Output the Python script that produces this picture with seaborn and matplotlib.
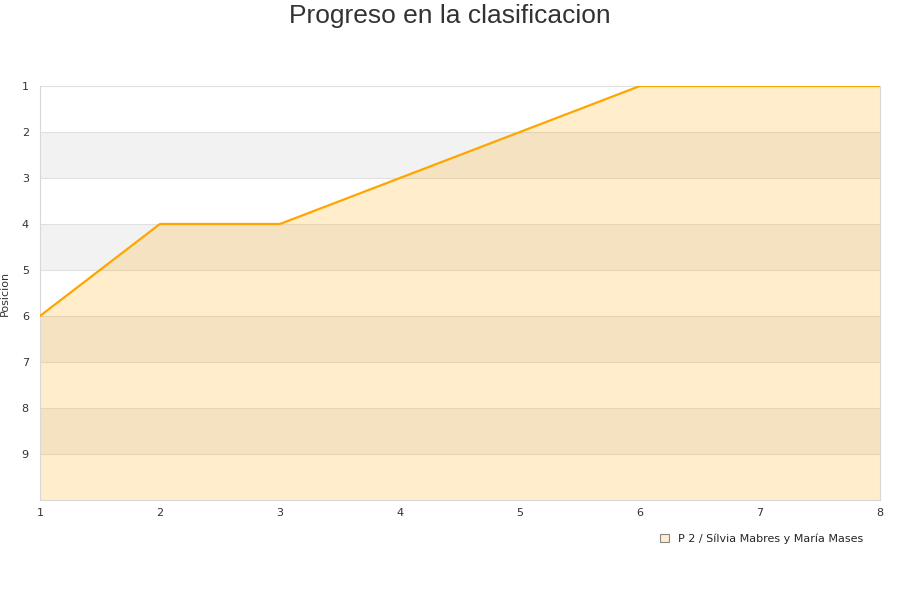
import seaborn as sns
import matplotlib
matplotlib.use('Agg')
import matplotlib.pyplot as plt
import pandas as pd

jornadas = [1, 2, 3, 4, 5, 6, 7, 8]
posicion = [6, 4, 4, 3, 2, 1, 1, 1]
pareja = 'P 2 / Sílvia Mabres y María Mases'

df = pd.DataFrame({'jornada': jornadas, 'posicion': posicion})

sns.set_style('white')
plt.rcParams['font.family'] = ['DejaVu Sans']

fig = plt.figure(figsize=(9, 6), dpi=100)
ax = fig.add_axes([0.0444, 0.1667, 0.9334, 0.69])

# bandas alternas de fondo
for y0 in range(2, 10, 2):
    ax.axhspan(y0, y0 + 1, color='#f2f2f2', zorder=0, lw=0)
for y in range(1, 10):
    ax.axhline(y, color='#e0e0e0', lw=0.8, zorder=1)

ax.fill_between(df['jornada'], df['posicion'], 10, color='#ffa500', alpha=0.2,
                lw=0, zorder=2)
sns.lineplot(x='jornada', y='posicion', data=df, ax=ax, color='#ffa500',
             lw=1.6, zorder=3)

ax.set_xlim(1, 8)
ax.set_ylim(10, 1)
ax.set_yticks(range(1, 10))
ax.set_xticks(jornadas)
ax.tick_params(axis='both', labelsize=8, colors='#333333', length=0, pad=6)
ax.tick_params(axis='y', pad=8)

for s in ['left', 'bottom', 'right']:
    ax.spines[s].set_color('#d8d8d8')
ax.spines['top'].set_visible(False)

ax.set_xlabel('')
ax.set_ylabel('Posicion', fontsize=8, color='#333333')
ax.yaxis.set_label_coords(-0.036, 0.5)

fig.text(0.5, 0.973, 'Progreso en la clasificacion', ha='center', va='center',
         fontsize=19, color='#333333', family='Liberation Sans')

leg_handle = plt.Rectangle((0, 0), 1, 1, facecolor='#ffedcc', edgecolor='#888888', lw=0.8)
fig.legend([leg_handle], [pareja], loc='center right', bbox_to_anchor=(0.97, 0.102),
           frameon=False, fontsize=8, handlelength=0.8, handleheight=0.8,
           handletextpad=0.8)

plt.savefig('out.png', dpi=100)
plt.close()
